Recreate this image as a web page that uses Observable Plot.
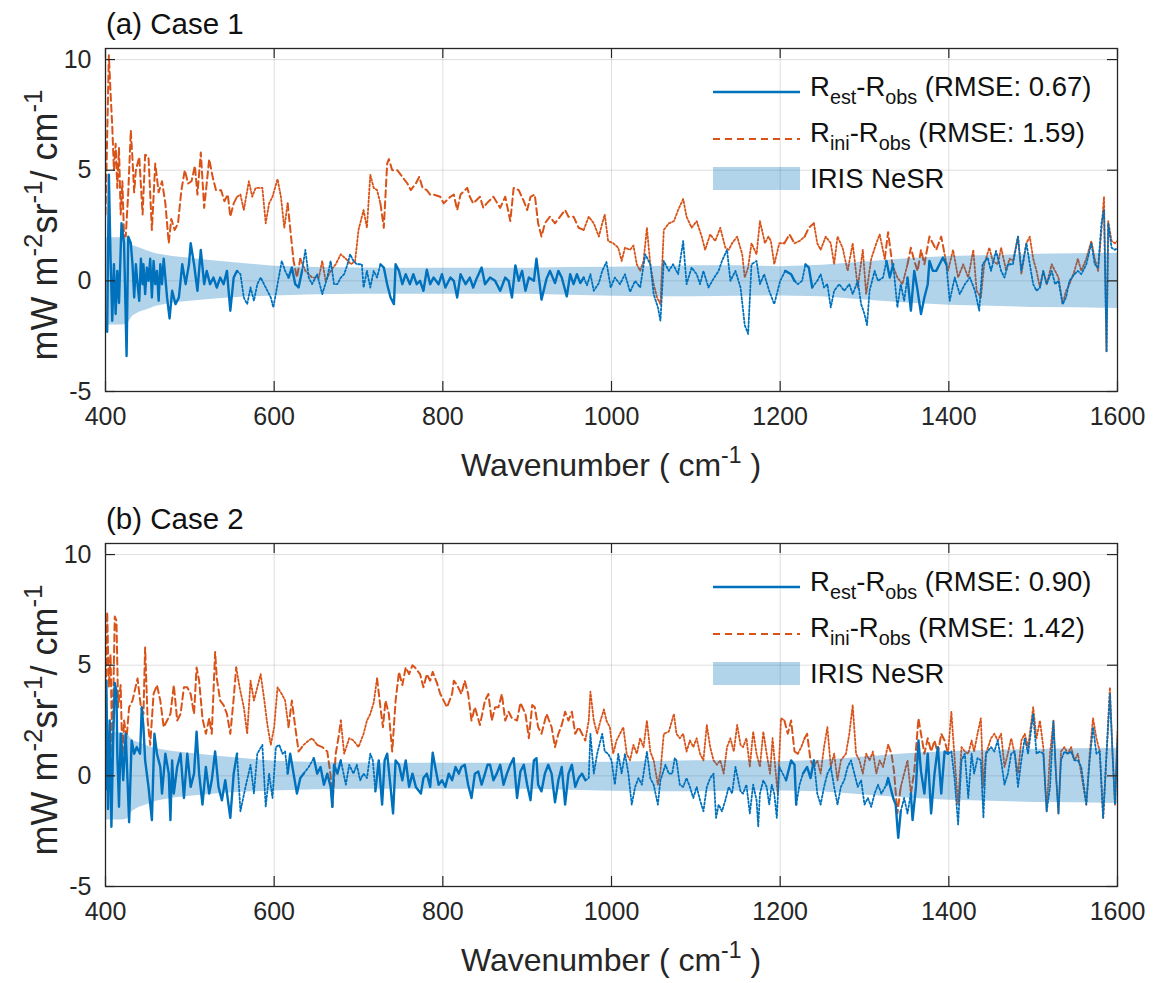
<!DOCTYPE html>
<html><head><meta charset="utf-8">
<script src="https://cdn.jsdelivr.net/npm/d3@7"></script>
<script src="https://cdn.jsdelivr.net/npm/@observablehq/plot@0.6"></script>
<style>body{margin:0;background:#fff;} svg{display:block}</style>
</head><body><div id="chart"></div>
<script>
const xTicks = [400, 600, 800, 1000, 1200, 1400, 1600];
const yTicks = [-5, 0, 5, 10];

// IRIS NeSR band (wavenumber, lower, upper)
const nesrW  = [400, 410, 420, 426, 432, 440, 450, 460, 480, 500, 530, 560, 600, 650, 700, 750, 800, 850, 900, 950, 1000, 1050, 1100, 1150, 1200, 1250, 1300, 1350, 1400, 1450, 1500, 1550, 1600];
const nesrHi = [1.95, 1.95, 1.95, 1.9, 1.6, 1.5, 1.35, 1.22, 1.1, 1.02, 0.9, 0.8, 0.66, 0.6, 0.58, 0.57, 0.57, 0.57, 0.57, 0.6, 0.62, 0.65, 0.68, 0.68, 0.64, 0.7, 0.85, 1.0, 1.1, 1.15, 1.2, 1.22, 1.25];
const nesrLo = [-2.0, -2.0, -2.0, -1.95, -1.6, -1.42, -1.3, -1.15, -1.0, -0.92, -0.82, -0.74, -0.68, -0.63, -0.6, -0.6, -0.6, -0.6, -0.6, -0.65, -0.7, -0.72, -0.72, -0.7, -0.68, -0.72, -0.86, -1.0, -1.1, -1.15, -1.2, -1.22, -1.25];

// Case 1 : R_est - R_obs  [wavenumber, value]
const case1Est = [[400,-2.0],[402,-2.3],[404,4.8],[406,1.0],[408,-1.8],[410,0.75],[412,-1.5],[414,0.45],[416,-1.0],[419,2.6],[422,1.7],[425,-3.4],[427,2.0],[430,1.7],[432,0.75],[434,-0.75],[436,0.75],[438,-0.15],[440,-0.9],[442,1.0],[444,-0.15],[445,0.75],[447,-0.6],[449,0.6],[451,0],[453,1.0],[455,-0.75],[457,0.9],[459,-0.15],[461,0.45],[463,-0.9],[465,0.75],[467,-0.15],[469,1.0],[473,-0.75],[476,-1.7],[479,-0.45],[483,-1.05],[487,-0.75],[491,0.75],[495,-0.15],[499,0.75],[501,1.7],[505,0.75],[509,-0.45],[513,1.4],[517,-0.15],[520,0.45],[524,-0.15],[528,0.15],[532,-0.3],[536,0.15],[540,-0.15],[544,0.45],[548,-1.35],[552,0.15],[556,0.45],[560,0.3],[564,-0.75],[568,-1.05],[572,-0.3],[576,-0.9],[580,-0.15],[584,0.15],[588,-0.15],[592,-0.45],[596,-0.75],[599,-1.2],[604,-0.15],[609,0.9],[613,0.45],[617,0.15],[621,0.6],[625,-0.15],[629,-0.3],[633,0.45],[637,1.4],[641,0.15],[645,-0.15],[651,0.3],[657,-0.6],[663,0.15],[667,0.9],[671,-0.15],[675,-0.15],[679,0.15],[683,0.3],[687,0.75],[690,1.2],[694,0.9],[698,0.75],[704,0.75],[706,-0.3],[710,0.45],[714,-0.3],[718,0.45],[722,0.15],[726,0.75],[730,0.6],[734,-0.15],[738,-0.75],[742,-1.05],[744,0.75],[748,0.45],[752,-0.15],[756,0.3],[761,-0.15],[765,0.3],[769,-0.15],[773,0],[777,-0.45],[781,0.5],[785,-0.15],[789,0.15],[795,-0.15],[799,0.3],[803,-0.3],[809,0.15],[813,0],[817,-0.75],[821,0.3],[827,-0.15],[832,0.15],[836,-0.3],[840,0.1],[846,0.6],[850,-0.15],[856,0.15],[862,0],[868,-0.45],[874,0.15],[878,0],[882,-0.75],[886,0.7],[890,0],[894,0.45],[898,-0.45],[902,0.15],[908,0],[911,1.0],[915,-0.2],[917,-0.85],[923,0.1],[927,0.45],[933,-0.1],[937,0.45],[941,0.15],[947,-0.7],[951,0.3],[955,-0.15],[959,0.3],[963,-0.1],[967,0.15],[971,-0.2],[975,0.3],[979,-0.45],[985,-0.1],[989,0.45],[994,0.85],[999,-0.3],[1004,0.15],[1010,-0.15],[1016,0.3],[1022,-0.5],[1028,0],[1034,-0.3],[1040,1.2],[1046,0.75],[1050,-0.6],[1055,-1.2],[1058,-1.8],[1062,0.9],[1068,0.45],[1073,0.75],[1079,0.3],[1085,1.8],[1089,-0.15],[1095,0.6],[1101,0.3],[1105,-0.15],[1109,0.45],[1115,-0.3],[1121,0.1],[1127,0.45],[1131,0.9],[1137,1.4],[1141,0],[1147,0.45],[1153,-0.3],[1158,-2.0],[1162,-2.4],[1166,0.75],[1172,0.9],[1176,-0.15],[1181,0.3],[1187,-0.45],[1193,-1.05],[1200,0],[1206,0.45],[1213,0.3],[1217,0],[1221,-0.15],[1226,0],[1230,0.75],[1234,0.6],[1238,-0.3],[1244,0],[1248,0.3],[1252,-0.3],[1256,-0.15],[1260,-1.2],[1264,-0.45],[1270,-0.15],[1276,-0.45],[1282,-0.15],[1286,-0.6],[1292,0],[1296,-1.05],[1300,-1.5],[1303,-2.0],[1306,-0.45],[1312,0.45],[1316,0],[1322,0.15],[1326,0.9],[1330,0.15],[1334,0.75],[1339,-1.2],[1343,-0.15],[1347,-0.9],[1351,0.15],[1355,-1.35],[1359,0.45],[1363,-0.45],[1367,-1.5],[1371,-0.75],[1375,-0.15],[1377,0.9],[1381,0.45],[1385,0.45],[1389,0.75],[1393,1.05],[1397,0.75],[1401,-0.9],[1407,0.15],[1413,-0.6],[1419,-0.15],[1425,0.15],[1431,-0.45],[1436,-1.35],[1440,0.75],[1446,1.05],[1450,0.45],[1456,1.35],[1462,0.45],[1466,0.15],[1470,0.75],[1476,0.75],[1482,2.0],[1486,0.45],[1492,1.7],[1496,0.75],[1500,-0.15],[1504,-0.45],[1508,-0.3],[1512,0.45],[1516,-0.15],[1522,0.45],[1526,-0.15],[1530,0],[1535,-1.05],[1539,-0.75],[1543,0],[1549,0.3],[1553,0.45],[1557,0.3],[1563,0.75],[1569,1.7],[1573,0.75],[1577,0.6],[1581,2.6],[1584,3.2],[1587,-3.2],[1589,2.6],[1593,1.5],[1597,1.4],[1600,1.5]];

// Case 1 : R_ini - R_obs
const case1Ini = [[400,3.0],[402,6.5],[404,10.2],[406,8.5],[408,7.0],[410,5.0],[412,6.2],[414,4.2],[416,6.0],[418,3.0],[420,4.5],[422,2.0],[424,2.0],[427,4.0],[430,6.8],[432,5.5],[434,4.0],[436,5.0],[440,5.6],[444,3.0],[447,5.7],[451,5.6],[455,2.3],[459,5.3],[463,4.0],[467,4.5],[471,3.5],[475,1.7],[478,2.8],[482,2.3],[486,2.6],[490,4.1],[494,5.0],[498,4.4],[502,4.5],[506,5.2],[509,3.9],[513,5.8],[517,3.3],[523,5.5],[527,4.7],[531,4.1],[537,4.1],[541,3.6],[545,3.9],[548,2.9],[552,3.5],[556,3.8],[560,3.9],[564,3.2],[570,4.5],[574,3.8],[578,4.2],[586,4.2],[590,2.6],[594,3.5],[598,3.8],[604,4.6],[608,3.8],[612,2.4],[616,3.5],[620,2.0],[623,0.9],[627,0.15],[631,1.0],[637,0.45],[645,0.15],[653,0.15],[657,0.9],[661,0],[667,0.45],[673,0.75],[679,1.2],[685,1.0],[691,0.75],[696,0.9],[700,2.3],[706,3.2],[710,2.4],[714,4.8],[718,4.2],[722,4.1],[726,3.5],[730,2.4],[734,5.3],[736,5.5],[740,5.0],[746,5.0],[752,4.7],[758,4.4],[762,4.1],[768,4.4],[772,4.7],[776,4.2],[781,4.1],[785,3.9],[789,3.9],[797,3.8],[801,3.5],[809,3.8],[813,3.9],[817,3.2],[821,3.9],[829,4.2],[832,3.8],[836,3.5],[844,3.8],[848,3.3],[852,3.5],[860,3.8],[868,3.3],[874,3.8],[880,2.7],[884,4.2],[890,4.1],[896,3.6],[900,3.2],[904,3.8],[909,3.9],[913,2.6],[917,2.0],[921,2.6],[927,2.9],[933,2.6],[939,2.9],[945,3.2],[949,2.9],[955,2.9],[961,2.4],[967,2.3],[973,2.9],[979,2.6],[985,2.0],[989,2.6],[992,3.0],[996,1.8],[1002,1.7],[1008,1.5],[1012,0.9],[1016,1.5],[1022,1.4],[1026,1.6],[1030,0.75],[1034,0.45],[1038,0.9],[1042,2.4],[1046,0.75],[1050,-0.15],[1054,-0.75],[1058,-1.05],[1062,2.3],[1068,2.6],[1074,2.7],[1079,3.2],[1085,3.7],[1089,2.9],[1095,2.4],[1101,2.7],[1107,2.0],[1111,1.4],[1117,2.1],[1123,1.8],[1129,2.4],[1135,1.5],[1139,1.4],[1143,1.7],[1149,2.0],[1155,1.2],[1158,0.15],[1162,0.6],[1166,1.7],[1172,1.2],[1176,2.7],[1182,1.7],[1186,2.0],[1189,1.8],[1193,0.75],[1199,1.7],[1205,1.7],[1211,2.1],[1217,1.7],[1223,1.8],[1229,2.0],[1234,2.4],[1240,2.6],[1244,1.7],[1248,1.4],[1254,2.0],[1260,1.7],[1264,0.75],[1268,2.0],[1274,1.5],[1280,0.45],[1286,1.7],[1292,-0.3],[1298,1.4],[1302,-0.6],[1308,1.0],[1314,1.7],[1318,2.1],[1324,1.0],[1328,2.2],[1333,0.75],[1339,0.15],[1345,-0.15],[1351,0.75],[1355,1.5],[1359,0.9],[1363,0.45],[1367,1.4],[1371,0.75],[1377,2.0],[1381,1.7],[1385,1.4],[1391,2.0],[1395,1.2],[1399,0.45],[1405,1.4],[1411,0.15],[1417,0.75],[1423,0.15],[1429,1.4],[1433,-0.45],[1438,-0.75],[1442,0.75],[1448,1.5],[1452,0.9],[1458,0.75],[1462,1.5],[1468,0.45],[1472,1.0],[1476,0.9],[1482,2.0],[1486,0.3],[1492,1.7],[1496,2.0],[1500,1.0],[1504,0.45],[1508,-0.3],[1512,0.45],[1516,-0.15],[1522,0.75],[1526,0.45],[1530,0.15],[1535,-1.05],[1539,-0.45],[1543,-0.15],[1549,0.45],[1553,1.0],[1557,0.45],[1563,1.0],[1569,1.8],[1573,1.0],[1577,0.45],[1581,2.3],[1584,3.8],[1587,-3.2],[1589,2.7],[1593,1.8],[1597,1.7],[1600,1.8]];

// Case 1 : channels used in the retrieval (solid / dashed), others dotted
const case1Used = [[400,556],[615,635],[724,968],[1205,1220],[1228,1240],[1324,1336],[1348,1398]];

// Case 2 : R_est - R_obs
const case2Est = [[400,-0.6],[401,4.3],[403,-1.5],[405,2.5],[407,-2.3],[409,1.5],[411,4.2],[413,3.8],[414,1.0],[416,-1.4],[418,1.9],[421,-0.2],[424,1.9],[428,-2.1],[431,1.6],[434,1.0],[437,1.3],[441,1.0],[443,3.1],[445,2.2],[447,0.7],[451,-0.5],[455,-2.0],[458,1.9],[461,1.0],[465,0.4],[467,-0.8],[471,1.0],[475,0.1],[477,-2.0],[479,0.7],[481,-0.8],[485,0.4],[489,1.0],[493,-1.0],[497,1.0],[501,-0.5],[505,0.1],[508,2.0],[511,0.1],[515,-1.3],[519,0.4],[523,-0.8],[526,-0.2],[530,1.1],[534,-0.5],[538,-1.1],[542,-0.2],[548,-1.9],[552,0.1],[556,1.0],[560,-1.6],[566,-0.5],[572,0.5],[576,-0.8],[580,1.0],[586,1.4],[590,-1.4],[594,0.1],[598,-1.0],[602,1.3],[606,1.4],[610,1.0],[613,1.1],[616,0.1],[619,1.0],[623,0.1],[627,-0.8],[631,-0.1],[635,0.1],[641,0.4],[647,0.8],[651,0.1],[655,0.4],[659,-0.4],[663,0.1],[667,-0.5],[669,-1.4],[671,0.5],[675,0.1],[679,0.7],[685,-0.4],[689,0.5],[694,0.1],[698,0.5],[702,-0.2],[706,0.1],[710,-0.1],[714,1.0],[717,0.7],[720,-0.7],[724,0.7],[728,-1.3],[731,0.7],[734,1.0],[738,-0.5],[741,-1.7],[744,0.7],[748,0.5],[752,-0.2],[756,0.7],[760,-0.5],[764,0.1],[768,-0.5],[774,-0.8],[777,-0.1],[781,0.1],[785,-0.5],[788,1.05],[791,0.4],[795,-0.4],[799,-0.2],[803,-0.5],[807,0.1],[811,-0.2],[815,0.4],[819,0.1],[822,0.4],[826,0.5],[830,-0.4],[834,-1.0],[838,0.1],[842,0.2],[846,-0.4],[850,0.1],[853,0.5],[856,0.5],[860,-0.2],[864,0.1],[868,0.5],[872,-0.4],[876,0.1],[880,0.5],[884,0.8],[888,-1.0],[892,0.2],[896,0.5],[900,-0.4],[904,-1.1],[908,0.7],[911,0.8],[913,-0.4],[917,-0.7],[921,0.1],[925,0.5],[929,0.1],[933,-1.2],[937,-0.2],[941,0.4],[945,-1.3],[949,0.1],[953,0.5],[957,-0.5],[961,-0.1],[965,0.1],[969,-0.2],[973,-0.1],[975,1.9],[979,0.1],[983,1.0],[989,1.9],[992,1.1],[996,1.0],[1000,0.7],[1004,-0.4],[1008,1.0],[1012,0.1],[1016,1.0],[1020,0.1],[1024,-1.3],[1028,-0.5],[1032,-0.1],[1036,-0.4],[1042,1.1],[1046,-0.1],[1050,-0.4],[1055,-1.3],[1058,-0.2],[1064,0.5],[1068,0.1],[1072,0.1],[1075,0.8],[1077,0.7],[1081,-0.4],[1085,-0.5],[1089,-0.1],[1093,-0.5],[1097,-1.0],[1101,-0.5],[1105,-1.1],[1109,-1.6],[1113,-0.5],[1117,-0.1],[1121,0.1],[1124,-1.9],[1127,-1.3],[1131,-1.6],[1135,-1.1],[1139,-0.5],[1143,-0.8],[1147,0.4],[1153,-0.7],[1156,-0.8],[1160,-0.4],[1164,-1.7],[1168,-0.4],[1172,-1.1],[1174,-2.3],[1176,-0.8],[1180,-0.2],[1184,-0.5],[1187,-1.3],[1190,-0.4],[1193,-0.8],[1196,-1.9],[1199,0.4],[1203,0.1],[1207,-0.2],[1213,0.7],[1217,0.5],[1219,-1.3],[1223,-0.4],[1227,0.1],[1232,0.4],[1236,-0.1],[1240,0.7],[1244,-0.8],[1248,-1.3],[1252,-0.5],[1256,0.1],[1260,0.4],[1264,-0.5],[1268,-1.3],[1272,-0.5],[1276,-0.2],[1280,0.4],[1284,0.7],[1288,0.1],[1292,-0.5],[1296,-0.2],[1300,-1.3],[1304,-1.0],[1308,-1.4],[1312,-0.8],[1316,-0.4],[1320,-0.8],[1326,-0.4],[1328,-0.1],[1334,-1.0],[1337,-1.3],[1340,-2.8],[1343,-1.6],[1347,-1.0],[1351,-1.7],[1355,-0.8],[1357,-2.0],[1361,-0.5],[1364,1.6],[1367,0.2],[1371,-0.8],[1375,1.0],[1379,-1.7],[1383,0.1],[1387,1.3],[1391,-0.8],[1395,1.1],[1399,1.0],[1403,1.1],[1407,-0.2],[1411,-2.2],[1415,0.7],[1419,1.0],[1423,-1.0],[1427,1.0],[1430,0.1],[1434,0.8],[1438,0.7],[1441,-1.9],[1444,1.0],[1450,1.3],[1454,1.1],[1458,1.6],[1462,0.7],[1466,-0.4],[1470,0.1],[1474,1.0],[1478,1.1],[1482,-0.5],[1486,0.7],[1490,1.7],[1494,1.0],[1500,2.8],[1504,1.0],[1508,1.1],[1512,1.0],[1516,-1.6],[1520,-0.5],[1524,2.5],[1527,0.1],[1530,-1.7],[1533,0.7],[1537,1.1],[1541,1.0],[1545,1.1],[1549,0.7],[1553,0.7],[1557,0.4],[1560,-0.4],[1563,-1.3],[1567,0.7],[1571,2.2],[1575,1.0],[1579,1.1],[1583,-1.9],[1587,1.0],[1591,3.7],[1594,1.1],[1597,-1.3],[1600,1.7]];

// Case 2 : R_ini - R_obs
const case2Ini = [[400,2.0],[402,7.4],[404,4.0],[406,5.5],[408,1.0],[411,7.2],[413,7.0],[415,3.1],[418,4.1],[420,0.7],[422,2.5],[425,1.7],[428,3.1],[432,3.4],[438,4.4],[442,3.1],[445,2.8],[447,5.8],[450,2.5],[453,1.4],[457,3.7],[461,4.1],[465,3.4],[469,2.2],[473,2.5],[477,2.8],[481,4.1],[485,2.5],[489,2.8],[493,4.0],[497,4.0],[501,3.7],[505,2.8],[508,4.9],[511,4.3],[515,2.6],[519,1.9],[523,2.6],[526,1.9],[530,5.6],[532,4.4],[536,3.4],[540,3.2],[544,2.8],[548,1.9],[552,3.5],[555,4.9],[559,4.0],[564,3.1],[568,1.9],[572,4.3],[576,3.4],[580,4.0],[584,4.6],[588,3.5],[592,2.3],[596,1.4],[600,2.2],[604,4.0],[609,3.7],[613,3.4],[617,2.2],[621,3.4],[625,2.2],[629,1.1],[635,1.4],[641,1.6],[645,1.7],[651,1.4],[657,1.3],[663,1.1],[667,0.0],[669,-1.4],[673,1.0],[677,1.9],[679,2.5],[683,1.0],[689,1.7],[694,1.6],[700,1.3],[706,1.9],[710,2.5],[714,2.8],[718,3.3],[722,4.4],[726,3.1],[729,2.2],[732,3.4],[736,2.8],[740,1.1],[744,3.4],[748,4.7],[752,4.1],[756,4.9],[760,4.6],[764,5.0],[767,4.9],[773,4.6],[777,4.0],[781,4.6],[785,4.3],[788,4.7],[793,4.2],[797,3.7],[805,3.1],[811,3.7],[813,4.3],[817,4.1],[822,3.7],[826,4.3],[830,3.7],[834,2.5],[838,3.1],[844,2.3],[850,3.4],[854,3.7],[858,2.5],[862,3.1],[866,3.1],[870,3.7],[874,2.5],[878,2.9],[882,2.6],[888,2.5],[892,3.3],[898,2.8],[902,1.7],[906,3.2],[909,3.1],[913,2.2],[917,1.9],[923,2.8],[929,2.2],[933,1.3],[937,1.9],[941,2.3],[945,2.9],[949,2.5],[953,2.9],[957,1.9],[961,2.2],[965,1.9],[969,1.6],[973,2.5],[975,3.8],[979,2.5],[983,1.9],[987,2.5],[991,3.0],[994,2.5],[998,2.2],[1002,1.0],[1006,1.6],[1010,1.9],[1014,2.2],[1018,1.0],[1022,0.7],[1026,1.4],[1030,1.0],[1034,1.7],[1038,1.3],[1042,2.5],[1046,1.1],[1050,0.7],[1055,-0.4],[1058,0.2],[1062,1.9],[1068,2.0],[1074,2.8],[1077,1.9],[1081,1.7],[1085,1.9],[1089,1.1],[1093,1.6],[1097,1.3],[1101,1.7],[1105,1.0],[1109,0.7],[1113,2.3],[1117,1.3],[1121,0.7],[1125,0.5],[1129,0.7],[1133,0.1],[1137,1.3],[1141,1.7],[1145,1.1],[1149,2.3],[1153,1.4],[1156,1.3],[1160,1.7],[1164,0.4],[1168,2.0],[1172,1.0],[1176,0.4],[1180,2.0],[1184,1.0],[1188,0.1],[1191,1.7],[1197,-0.8],[1201,2.6],[1205,2.5],[1209,1.9],[1213,2.5],[1217,1.1],[1221,1.0],[1225,1.3],[1229,1.7],[1232,1.9],[1236,0.7],[1240,0.4],[1244,0.7],[1248,0.1],[1252,1.3],[1256,2.2],[1260,0.4],[1264,1.0],[1268,-0.2],[1272,0.7],[1278,1.0],[1282,1.9],[1286,3.2],[1290,1.0],[1294,0.7],[1298,0.1],[1302,1.0],[1306,0.7],[1310,1.1],[1314,0.1],[1318,0.7],[1322,0.4],[1328,1.4],[1332,1.0],[1335,0.2],[1339,-1.7],[1343,-0.5],[1347,0.1],[1351,0.7],[1355,-0.8],[1359,0.2],[1364,2.6],[1367,1.9],[1371,1.0],[1375,1.7],[1379,1.1],[1383,1.6],[1387,1.0],[1391,1.9],[1395,1.6],[1399,1.0],[1403,2.9],[1407,0.7],[1411,-1.3],[1415,1.3],[1419,1.1],[1423,1.0],[1427,1.6],[1430,1.1],[1434,1.9],[1438,2.6],[1441,-0.5],[1444,1.0],[1450,1.7],[1454,1.9],[1458,1.6],[1462,1.9],[1466,0.4],[1470,1.0],[1474,1.7],[1478,1.0],[1482,0.1],[1486,1.6],[1490,1.9],[1494,1.3],[1500,3.1],[1504,1.7],[1508,2.5],[1512,1.3],[1516,-1.6],[1520,1.0],[1524,2.5],[1527,0.1],[1530,-1.7],[1533,1.1],[1537,1.3],[1541,1.0],[1545,1.3],[1549,0.7],[1553,1.0],[1557,0.1],[1563,-1.3],[1567,1.0],[1571,2.6],[1575,1.7],[1579,1.1],[1583,-1.9],[1587,1.0],[1591,4.0],[1594,1.1],[1597,-1.3],[1600,2.0]];

const case2Used = [[400,556],[616,636],[647,680],[720,969],[1205,1222],[1226,1240],[1326,1345],[1352,1399]];

const panelTitles = ["(a) Case 1", "(b) Case 2"];
const rmseEst = ["0.67", "0.90"];
const rmseIni = ["1.59", "1.42"];

const BLUE = "#0072BD", ORANGE = "#D95319", AX = "#262626";
const FONT = "'Liberation Sans', Arial, Helvetica, sans-serif";
const W = 1153, H = 495, mL = 105, mR = 36, mT = 48, mB = 104;
const pw = W - mL - mR, ph = H - mT - mB;

function rows(series, used) {
  const inUsed = w => used.some(([a, b]) => w >= a && w <= b);
  const u = series.map(([w]) => inUsed(w));
  return series.map(([w, v], i) => ({
    w, v,
    solid: u[i] ? v : NaN,
    dot: (!u[i] || (i > 0 && !u[i - 1]) || (i < u.length - 1 && !u[i + 1])) ? v : NaN
  }));
}

const band = nesrW.map((w, i) => ({w, lo: nesrLo[i], hi: nesrHi[i]}));

function supText(sel, parts, fs) {
  // parts: [text, mode] mode: 0 normal, 1 superscript, -1 subscript
  let cur = 0;
  for (const [t, mode] of parts) {
    const target = mode === 1 ? -0.42 * fs : mode === -1 ? 0.3 * fs : 0;
    const ts = sel.append("tspan").text(t).attr("dy", (target - cur).toFixed(2));
    if (mode !== 0) ts.attr("font-size", (fs * 0.72).toFixed(1));
    cur = target;
  }
}

function panel(k, est, ini, used) {
  const E = rows(est, used), I = rows(ini, used);
  const svg = Plot.plot({
    width: W, height: H, marginLeft: mL, marginRight: mR, marginTop: mT, marginBottom: mB,
    style: {fontFamily: FONT, fontSize: "25px", color: AX, background: "#fff", overflow: "visible"},
    x: {domain: [400, 1600], label: null},
    y: {domain: [-5, 10.5], label: null},
    marks: [
      Plot.gridX(xTicks, {stroke: AX, strokeOpacity: 0.15, strokeWidth: 1}),
      Plot.gridY(yTicks, {stroke: AX, strokeOpacity: 0.15, strokeWidth: 1}),
      Plot.line(I, {x: "w", y: "dot", stroke: ORANGE, strokeWidth: 1.8, strokeDasharray: "2,2", clip: true}),
      Plot.line(I, {x: "w", y: "solid", stroke: ORANGE, strokeWidth: 2, strokeDasharray: "7,4", clip: true}),
      Plot.line(E, {x: "w", y: "dot", stroke: BLUE, strokeWidth: 1.8, strokeDasharray: "2,2", clip: true}),
      Plot.line(E, {x: "w", y: "solid", stroke: BLUE, strokeWidth: 2.4, strokeLinejoin: "round", clip: true}),
      Plot.areaY(band, {x: "w", y1: "lo", y2: "hi", fill: BLUE, fillOpacity: 0.3}),
      Plot.frame({stroke: AX, strokeWidth: 1.3}),
      Plot.tickX(xTicks, {x: d => d, insetTop: ph - 10, stroke: AX, strokeWidth: 1.2}),
      Plot.tickX(xTicks, {x: d => d, insetBottom: ph - 10, stroke: AX, strokeWidth: 1.2}),
      Plot.tickY(yTicks, {y: d => d, insetRight: pw - 10, stroke: AX, strokeWidth: 1.2}),
      Plot.tickY(yTicks, {y: d => d, insetLeft: pw - 10, stroke: AX, strokeWidth: 1.2}),
      Plot.axisX(xTicks, {tickSize: 0, tickPadding: 16, tickFormat: d => String(d), label: null, fontSize: 25}),
      Plot.axisY(yTicks, {tickSize: 0, tickPadding: 14, tickFormat: d => String(d), label: null, fontSize: 25})
    ]
  });
  const s = d3.select(svg);
  const g = s.append("g").attr("font-family", FONT).attr("fill", "#111").attr("text-anchor", "start");
  // panel title
  g.append("text").attr("x", 106).attr("y", 34).attr("font-size", 29.5).attr("text-anchor", "start").text(panelTitles[k]);
  // y label
  const yl = g.append("text").attr("transform", "translate(57,225) rotate(-90)")
    .attr("text-anchor", "middle").attr("font-size", 36).attr("fill", AX);
  supText(yl, [["mW m", 0], ["-2", 1], ["sr", 0], ["-1", 1], ["/ cm", 0], ["-1", 1]], 36);
  // x label
  const xl = g.append("text").attr("x", 611).attr("y", 476).attr("text-anchor", "middle")
    .attr("font-size", 32).attr("fill", AX);
  supText(xl, [["Wavenumber ( cm", 0], ["-1", 1], [" )", 0]], 32);
  // legend
  const lx0 = 713, lx1 = 800, tx = 810, fs = 27.5;
  g.append("line").attr("x1", lx0).attr("x2", lx1).attr("y1", 92).attr("y2", 92)
    .attr("stroke", BLUE).attr("stroke-width", 2.3);
  g.append("line").attr("x1", lx0).attr("x2", lx1).attr("y1", 139).attr("y2", 139)
    .attr("stroke", ORANGE).attr("stroke-width", 1.8).attr("stroke-dasharray", "7,5");
  g.append("rect").attr("x", lx0).attr("y", 167).attr("width", lx1 - lx0).attr("height", 23)
    .attr("fill", BLUE).attr("fill-opacity", 0.3);
  const t1 = g.append("text").attr("x", tx).attr("y", 96).attr("font-size", fs).attr("text-anchor", "start");
  supText(t1, [["R", 0], ["est", -1], ["-R", 0], ["obs", -1], [" (RMSE: " + rmseEst[k] + ")", 0]], fs);
  const t2 = g.append("text").attr("x", tx).attr("y", 142).attr("font-size", fs).attr("text-anchor", "start");
  supText(t2, [["R", 0], ["ini", -1], ["-R", 0], ["obs", -1], [" (RMSE: " + rmseIni[k] + ")", 0]], fs);
  g.append("text").attr("x", tx).attr("y", 188).attr("font-size", fs).attr("text-anchor", "start").text("IRIS NeSR");
  return svg;
}

const root = document.getElementById("chart");
root.appendChild(panel(0, case1Est, case1Ini, case1Used));
root.appendChild(panel(1, case2Est, case2Ini, case2Used));
</script>
</body></html>
